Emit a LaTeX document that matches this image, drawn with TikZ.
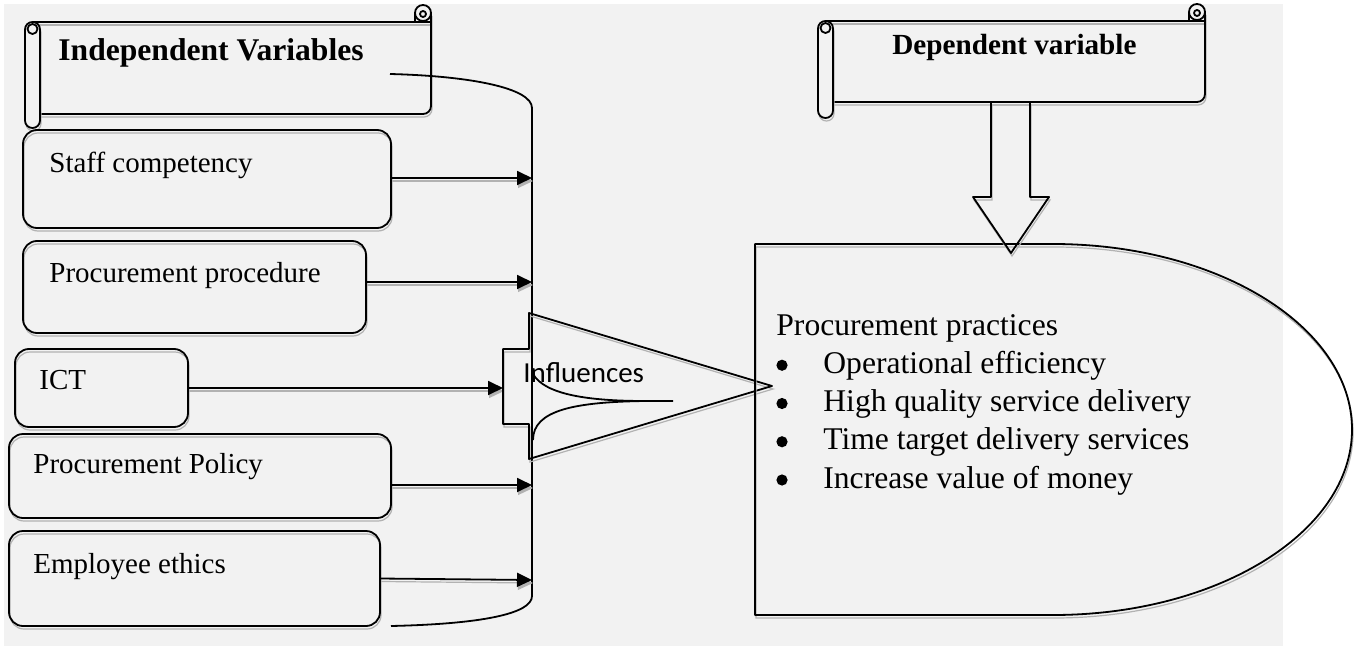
\documentclass[tikz,border=0pt]{standalone}
\usepackage{fontspec}
\setmainfont{Liberation Serif}
\newfontfamily\calibrifont{Carlito}
\usetikzlibrary{positioning,arrows.meta}
\definecolor{bg}{HTML}{F2F2F2}
\tikzset{
  outline/.style={line width=0.9pt, line join=round},
  lineshadow/.style={preaction={draw=gray!60, line width=0.6pt, transform canvas={shift={(0.5pt,-1.5pt)}}}},
  varbox/.style={outline, lineshadow, draw, rounded corners=7pt, inner sep=0pt, outer sep=0pt},
  lbl/.style={font=\fontsize{14.5}{17}\selectfont, anchor=base west, inner sep=0pt},
  item/.style={font=\fontsize{15.8}{19}\selectfont, anchor=base west, inner sep=0pt},
  dot/.style={circle, fill, inner sep=0pt, minimum size=5.6pt},
  title/.style={font=\bfseries\fontsize{#1}{19}\selectfont, anchor=base west, inner sep=0pt},
  arr/.style={outline, lineshadow, -{Triangle[length=7.5pt,width=7pt]}},
}
\newcommand{\scrollbanner}[5]{%
  \draw[outline, lineshadow] (#1+8,#2) -- (#3,#2);
  \draw[outline, lineshadow, rounded corners=4pt] (#3,#2-9) -- (#3,#4) -- (#1+15,#4);
  \draw[outline] (#3-8,#2-9) circle[radius=4pt];
  \draw[outline] (#3-16,#2-9) -- (#3-16,#2);
  \draw[outline] (#3-8,#2-8) circle[radius=1.5pt];
  \draw[outline, lineshadow, fill=bg, rounded corners=3.7pt] (#1,#2) rectangle (#1+15,#5);
  \draw[outline] (#1+7.5,#2+7) circle[radius=2.5pt];
}

\begin{document}
\begin{tikzpicture}[x=0.5pt, y=-0.5pt]
\useasboundingbox (0,0) rectangle (1359,647);
\fill[bg] (4,4) rectangle (1283,646);

\scrollbanner{25}{22}{431}{114}{128}
\scrollbanner{818}{21}{1205}{102}{118}
\node[title=15.8] (indep) at (58,61) {Independent Variables};
\node[title=14.6] (dep) at (892,55) {Dependent variable};

\node[varbox, minimum width=184pt, minimum height=49pt] (staff) at (207,179) {};
\node[varbox, minimum width=171.5pt, minimum height=46pt] (proc) at (194.5,287) {};
\node[varbox, minimum width=86.5pt, minimum height=39pt] (ict) at (101.5,388) {};
\node[varbox, minimum width=191pt, minimum height=42pt] (policy) at (200,476) {};
\node[varbox, minimum width=185.5pt, minimum height=47.5pt] (ethics) at (194.5,578.5) {};
\node[lbl] (staffT) at (49,172) {Staff competency};
\node[lbl] (procT) at (49,282) {Procurement procedure};
\node[lbl] (ictT) at (39,389) {ICT};
\node[lbl] (policyT) at (33,473) {Procurement Policy};
\node[lbl] (ethicsT) at (33,573) {Employee ethics};

\coordinate (brtop) at (390,74);
\coordinate (brbot) at (391,626);
\coordinate (b1) at (532,178);
\coordinate (b2) at (532,282);
\coordinate (b4) at (532,485);
\coordinate (b5) at (532,580);
\coordinate (notch) at (503,388);
\draw[outline] (brtop) .. controls (470,76) and (532,88) .. (532,108)
  -- (532,596) .. controls (532,614) and (480,624) .. (brbot);

\draw[arr] (staff.east |- b1) -- (b1);
\draw[arr] (proc.east |- b2) -- (b2);
\draw[arr] (ict.east) -- (notch);
\draw[arr] (policy.east |- b4) -- (b4);
\draw[arr] (ethics.east) -- (b5);

\draw[outline, lineshadow] (529,313) -- (772,386) -- (529,459) -- (529,424)
  -- (503,424) -- (503,349) -- (529,349) -- cycle;
\draw[outline] (673,401) -- (645,401) .. controls (590,401) and (545,395) .. (533,374);
\draw[outline] (645,401) .. controls (575,402) and (533,410) .. (533,440);
\node[font=\calibrifont\fontsize{14.5}{17}\selectfont, anchor=base west, inner sep=0pt] (infl) at (523,382) {Influences};

\draw[outline, lineshadow] (755,244) -- (1053,244)
  arc[start angle=90, end angle=-90, x radius=149.5pt, y radius=92.75pt] -- (755,615) -- cycle;
\draw[outline, lineshadow] (991,102) -- (991,197) -- (973,197) -- (1011,253)
  -- (1049,197) -- (1030,197) -- (1030,102) -- cycle;

\node[item] (prac) at (776,335) {Procurement practices};
\foreach \t [count=\i] in {Operational efficiency, High quality service delivery,
    Time target delivery services, Increase value of money} {
  \node[dot] (dot\i) at (782,327+38.25*\i) {};
  \node[item] (it\i) at (823,335+38.25*\i) {\t};
}
\end{tikzpicture}
\end{document}
